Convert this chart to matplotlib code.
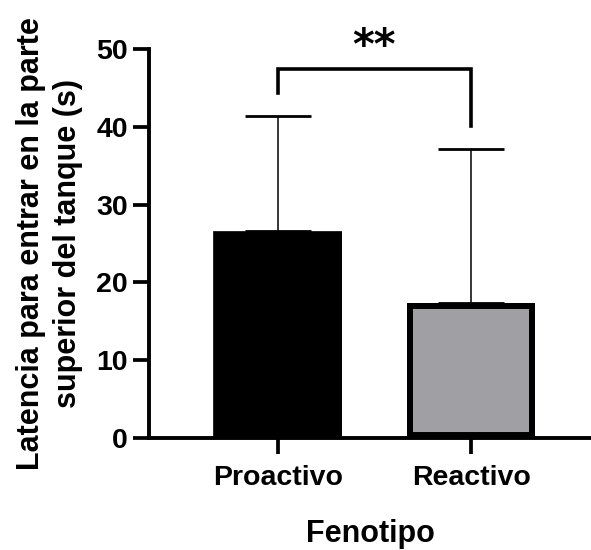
import matplotlib
matplotlib.use("Agg")
import matplotlib.pyplot as plt

plt.rcParams['font.family'] = ['Liberation Sans', 'DejaVu Sans']
plt.rcParams['font.weight'] = 'bold'

categories = ["Proactivo", "Reactivo"]
means = [26.6, 17.3]
sd_upper = [14.8, 19.8]
yticks = [0, 10, 20, 30, 40, 50]
sig_text = "**"
bracket_top = 47.4
bracket_left_bottom = 44.4
bracket_right_bottom = 40.1

fig = plt.figure(figsize=(5.91, 5.5), dpi=100)
ax = fig.add_axes([0.252, 0.2036, 0.748, 0.7073])

x = list(range(len(categories)))
ax.errorbar(x, means, yerr=[[0] * len(means), sd_upper], fmt='none',
            ecolor='black', elinewidth=1.1, capsize=23.5, capthick=2.0, zorder=1)

bars = ax.bar(x, means, width=0.665, color=['#000000', '#A0A0A4'],
              edgecolor='black', linewidth=[0.5, 8.6], zorder=2)
for b in bars:
    b.set_clip_path(b)

# significance bracket
ax.plot([x[0], x[0], x[1], x[1]],
        [bracket_left_bottom, bracket_top, bracket_top, bracket_right_bottom],
        color='black', lw=2.6, clip_on=False, solid_joinstyle='miter', zorder=3)
ax.text((x[0] + x[1]) / 2, 50.2, sig_text, ha='center', va='center',
        fontsize=30, fontweight='bold', family='DejaVu Sans', clip_on=False)

ax.set_xlim(-0.666, 1.62)
ax.set_ylim(0, 50)
ax.set_yticks(yticks)
ax.set_xticks(x)
ax.set_xticklabels(categories)

for s in ['top', 'right']:
    ax.spines[s].set_visible(False)
for s in ['left', 'bottom']:
    ax.spines[s].set_linewidth(2.8)
    ax.spines[s].set_capstyle('projecting')

ax.tick_params(axis='both', length=11.5, width=2.7, labelsize=20.5, direction='out')
ax.tick_params(axis='y', pad=3.5)
ax.tick_params(axis='x', pad=8)
for lab in ax.get_xticklabels() + ax.get_yticklabels():
    lab.set_fontweight('bold')

ax.set_xlabel("Fenotipo", fontsize=22, fontweight='bold', labelpad=20)
ax.set_ylabel("Latencia para entrar en la parte\nsuperior del tanque (s)",
              fontsize=22, fontweight='bold', linespacing=1.3)
ax.yaxis.set_label_coords(-0.149, 0.5)

fig.savefig("out.png", dpi=100)
